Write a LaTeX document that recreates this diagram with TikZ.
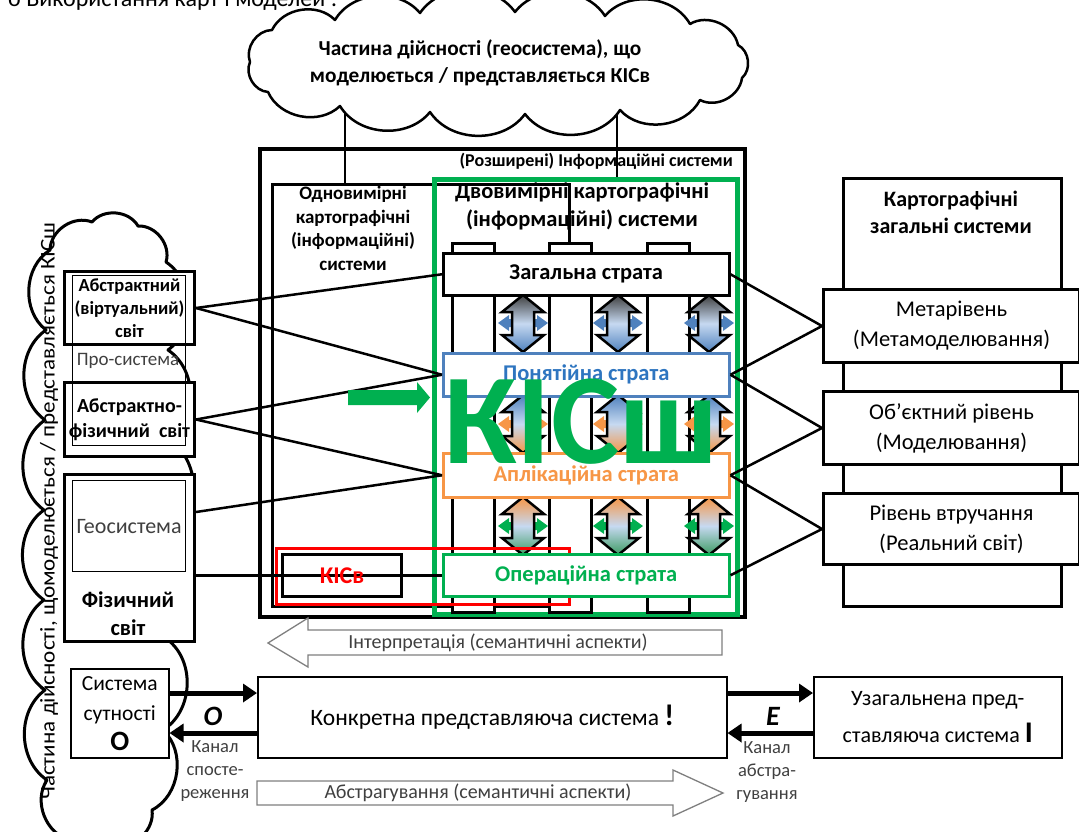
\documentclass[tikz,border=0pt]{standalone}
\usepackage{fontspec}
\setmainfont{Carlito}
\usetikzlibrary{arrows.meta}
\definecolor{ogreen}{HTML}{00B050}
\definecolor{dgreen}{HTML}{3C9B62}
\definecolor{oblue}{HTML}{4F81BD}
\definecolor{tblue}{HTML}{2E75C0}
\definecolor{oorange}{HTML}{F79646}
\definecolor{dgray}{HTML}{404040}
\definecolor{lightmid}{HTML}{C6D9F1}
\definecolor{edgegray}{HTML}{7F7F7F}
\newcommand{\fsz}[2]{\fontsize{#1}{#2}\selectfont}
% vertical double block arrow: centre x, top y, bottom y, top colour, bottom colour
\newcommand{\vdarrow}[5]{%
  \path[draw=black, line width=2.5pt, line join=miter, top color=#4, bottom color=#5, middle color=lightmid]
    ({#1},{#2}) -- ({#1+21},{#2+17}) -- ({#1+11},{#2+17}) -- ({#1+11},{#3-17}) -- ({#1+21},{#3-17})
    -- ({#1},{#3}) -- ({#1-21},{#3-17}) -- ({#1-11},{#3-17}) -- ({#1-11},{#2+17}) -- ({#1-21},{#2+17}) -- cycle;}
% horizontal double block arrow: centre x, centre y, colour
\newcommand{\hdarrow}[3]{%
  \fill[#3] ({#1-25},{#2}) -- ({#1-14},{#2-8}) -- ({#1-14},{#2-4}) -- ({#1+14},{#2-4}) -- ({#1+14},{#2-8})
    -- ({#1+25},{#2}) -- ({#1+14},{#2+8}) -- ({#1+14},{#2+4}) -- ({#1-14},{#2+4}) -- ({#1-14},{#2+8}) -- cycle;}
\tikzset{
  frame/.style={draw=black, inner sep=0pt, anchor=north west},
  thickbox/.style={draw=black, line width=3pt, fill=white, inner sep=0pt, anchor=north west, align=center},
  thinbox/.style={draw=black, line width=1.5pt, fill=white, inner sep=0pt, anchor=north west, align=center},
  stratum/.style={line width=2.5pt, fill=white, inner sep=0pt, anchor=north west,
    minimum width=286pt, font=\bfseries\fsz{22.5}{24}},
  pillar/.style={draw=black, line width=2.5pt, fill=white, inner sep=0pt, anchor=north west,
    minimum width=42pt, minimum height=369pt},
  link/.style={draw=black, line width=2.5pt},
  chan/.style={line width=5pt, -{Triangle[length=14pt,width=18pt]}},
  lbl/.style={inner sep=0pt, align=center},
  blockarrow/.style={draw=edgegray, line width=1.3pt, fill=white},
  cloudline/.style={draw=black, line width=3pt, fill=white, line join=round},
  puff/.style={bend left=55},
}
\begin{document}
\begin{tikzpicture}[x=1pt,y=-1pt]
\useasboundingbox (0,0) rectangle (1079,831);
\clip (0,0) rectangle (1079,831);

% running header line
\node[anchor=base west, inner sep=0pt, font=\fsz{24}{24}] (hdr) at (8,6) {о Використання карт і моделей :};

% frames of the information systems
\node[frame, line width=4pt, minimum width=485pt, minimum height=468pt] (outer) at (258,147) {};
\node[anchor=north east, lbl, font=\bfseries\fsz{18}{20}] (outert) at (733,153) {(Розширені) Інформаційні системи};
\node[frame, line width=3pt, minimum width=297pt, minimum height=422pt] (odn) at (271,183) {};
\node[anchor=north, lbl, font=\bfseries\fsz{19}{23.5}] (odnt) at (353,186) {Одновимірні\\картографічні\\(інформаційні)\\системи};
\node[frame, draw=ogreen, line width=5pt, minimum width=303pt, minimum height=435pt] (grn) at (432,177) {};
\node[anchor=north, lbl, font=\bfseries\fsz{22.5}{28}] (grnt) at (582,183) {Двовимірні картографічні\\(інформаційні) системи};

% links from the top cloud
\coordinate (c1) at (345,62);
\coordinate (c2) at (617,62);
\draw[link] (c1) -- (c1 |- odn.north);
\draw[link] (c2) -- (c2 |- grn.north);

% top cloud
\filldraw[cloudline, line width=2.5pt] (250,62) to[puff] (272,30) to[puff] (335,20) to[puff] (420,13) to[puff] (515,12)
  to[puff] (605,16) to[puff] (690,24) to[puff] (738,45) to[puff] (742,78) to[puff] (700,100)
  to[puff] (620,110) to[puff] (525,114) to[puff] (430,112) to[puff] (340,106) to[puff] (268,92) to[puff] (250,62) -- cycle;
\node[lbl, font=\bfseries\fsz{21.3}{27}] (tclt) at (480,63) {Частина дійсності (геосистема), що\\моделюється / представляється КІСв};

% left cloud
\filldraw[cloudline] (50,250) to[puff] (92,222) to[puff] (138,226) to[puff] (166,262) to[puff] (168,350)
  to[puff] (170,440) to[puff] (170,540) to[puff] (168,640) to[puff] (163,730) to[puff] (152,810)
  to[puff] (115,845) to[puff] (70,840) to[puff] (47,780) to[puff] (45,690) to[puff] (44,600)
  to[puff] (44,510) to[puff] (45,420) to[puff] (46,330) to[puff] (50,250) -- cycle;
\node[rotate=90, inner sep=0pt, font=\fsz{21}{21}] (lclt) at (49,511)
  {\scalebox{1.1}[1]{Частина дійсності, щомоделюється / представляється КІСш}};

% pillars of the two-dimensional system
\node[pillar] (p1) at (451,242) {};
\node[pillar] (p2) at (548,242) {};
\node[pillar] (p3) at (646,242) {};

% exchange arrows between strata
\foreach \cx in {523,618,709} {
  \hdarrow{\cx}{323}{oblue}
  \hdarrow{\cx}{424}{oorange}
  \hdarrow{\cx}{526}{ogreen}
  \vdarrow{\cx}{295}{352}{dgray}{oblue}
  \vdarrow{\cx}{395}{453}{oblue}{oorange}
  \vdarrow{\cx}{497}{555}{oorange}{dgreen}
}

% red frame of KISv
\node[frame, draw=red, line width=3pt, minimum width=293pt, minimum height=56pt] (redf) at (275,547) {};

% strata
\node[stratum, draw=black, minimum height=42pt] (zag) at (442,252) {Загальна страта};
\node[stratum, draw=oblue, text=tblue, minimum height=43pt] (pon) at (442,352) {Понятійна страта};
\node[stratum, draw=oorange, text=oorange, minimum height=44pt] (apl) at (442,452) {Аплікаційна страта};
\node[stratum, draw=ogreen, text=ogreen, minimum height=42pt] (ope) at (442,553) {Операційна страта};

% left column of worlds
\node[thickbox, minimum width=130pt, minimum height=73pt, font=\bfseries\fsz{18.5}{23}] (abs) at (63,270) {Абстрактний\\(віртуальний)\\світ};
\node[thickbox, minimum width=130pt, minimum height=74pt, font=\bfseries\fsz{20}{25}] (afs) at (63,381) {Абстрактно-\\фізичний\ \ світ};
\node[frame, line width=1.2pt, minimum width=113pt, minimum height=170pt] (prob) at (72,275) {};
\node[lbl, text=dgray, font=\fsz{19}{20}] (prst) at (128,361) {Про-система};
\node[thickbox, minimum width=130pt, minimum height=167pt] (fiz) at (63,473) {};
\node[frame, line width=1.2pt, minimum width=113pt, minimum height=91pt, text=dgray, font=\fsz{22}{22}] (geo) at (72,480) {Геосистема};
\node[lbl, font=\bfseries\fsz{22.5}{28}] (fizt) at (128,614) {Фізичний\\світ};

% links from the worlds to the strata
\coordinate (f1) at ([yshift=-39pt]fiz.north east);
\draw[link] (abs.east) -- (zag.west);
\draw[link] (abs.east) -- (pon.west);
\draw[link] (afs.east) -- (pon.west);
\draw[link] (afs.east) -- (apl.west);
\draw[link] (f1) -- (apl.west);
\draw[link] (ope.west -| fiz.east) -- (ope.west);

% KISv box
\node[frame, line width=3pt, minimum width=119pt, minimum height=42pt, text=red, font=\bfseries\fsz{24}{24}] (kisv) at (281,553) {КІСв};

% big KISsh label and its arrow
\node[anchor=base west, inner sep=0pt, text=ogreen, font=\bfseries\fsz{129}{129}] (kish) at (444,463) {КІСш};
\fill[ogreen] (348,390) -- (417,390) -- (417,382) -- (430,397.5) -- (417,413) -- (417,405) -- (348,405) -- cycle;

% cartographic general systems
\node[frame, line width=3pt, minimum width=218pt, minimum height=428pt] (kzs) at (842,177) {};
\node[lbl, font=\bfseries\fsz{22}{27}] (kzst) at (951,212) {Картографічні\\загальні системи};
\node[thickbox, minimum width=256pt, minimum height=73pt, font=\fsz{22.5}{30}] (meta) at (822,288) {Метарівень\\(Метамоделювання)};
\node[thickbox, minimum width=256pt, minimum height=73pt, font=\fsz{22.5}{30}] (obj) at (822,390) {Об’єктний рівень\\(Моделювання)};
\node[thickbox, minimum width=256pt, minimum height=71pt, font=\fsz{22.5}{30}] (riv) at (822,492) {Рівень втручання\\(Реальний світ)};
\draw[link] (zag.east) -- (meta.west);
\draw[link] (pon.east) -- (meta.west);
\draw[link] (pon.east) -- (obj.west);
\draw[link] (apl.east) -- (obj.west);
\draw[link] (apl.east) -- (riv.west);
\draw[link] (ope.east) -- (riv.west);

% semantic aspects
\path[blockarrow] (268,643) -- (308,618) -- (308,630) -- (722,630) -- (722,655) -- (308,655) -- (308,667) -- cycle;
\node[lbl, text=dgray, font=\fsz{20}{20}] (interp) at (498,643) {Інтерпретація (семантичні аспекти)};
\path[blockarrow] (257,781) -- (673,781) -- (673,770) -- (723,793) -- (673,816) -- (673,805) -- (257,805) -- cycle;
\node[lbl, text=dgray, font=\fsz{20}{20}] (abstr) at (478,793) {Абстрагування (семантичні аспекти)};

% representing systems and channels
\node[thinbox, minimum width=98pt, minimum height=89pt, font=\fsz{21.5}{30}] (sys) at (70,668) {Система\\сутності\\\textbf{\fsz{28}{28}O}};
\node[thinbox, minimum width=469pt, minimum height=81pt, font=\fsz{23.5}{26}] (kon) at (257,676) {Конкретна представляюча система \textbf{\fsz{30}{30}!}};
\node[thinbox, minimum width=248pt, minimum height=81pt, font=\fsz{22}{37}] (uza) at (813,676) {Узагальнена пред-\\ставляюча система \textbf{\fsz{30}{30}I}};
\coordinate (a1) at ([yshift=-25pt]sys.north east);
\coordinate (a2) at ([yshift=-57pt]kon.north west);
\coordinate (a3) at ([yshift=-17pt]kon.north east);
\coordinate (a4) at ([yshift=-57pt]uza.north west);
\draw[chan] (a1) -- (a1 -| kon.west);
\draw[chan] (a2) -- (a2 -| sys.east);
\draw[chan] (a3) -- (a3 -| uza.west);
\draw[chan] (a4) -- (a4 -| kon.east);
\node[lbl, font=\bfseries\itshape\fsz{28}{28}] (olab) at (213,716) {O};
\node[lbl, font=\bfseries\itshape\fsz{28}{28}] (elab) at (773,716) {E};
\node[lbl, text=dgray, font=\fsz{18.5}{23}] (kan1) at (215,771) {Канал\\спосте-\\реження};
\node[lbl, text=dgray, font=\fsz{18.5}{23}] (kan2) at (767,772) {Канал\\абстра-\\гування};
\end{tikzpicture}
\end{document}
